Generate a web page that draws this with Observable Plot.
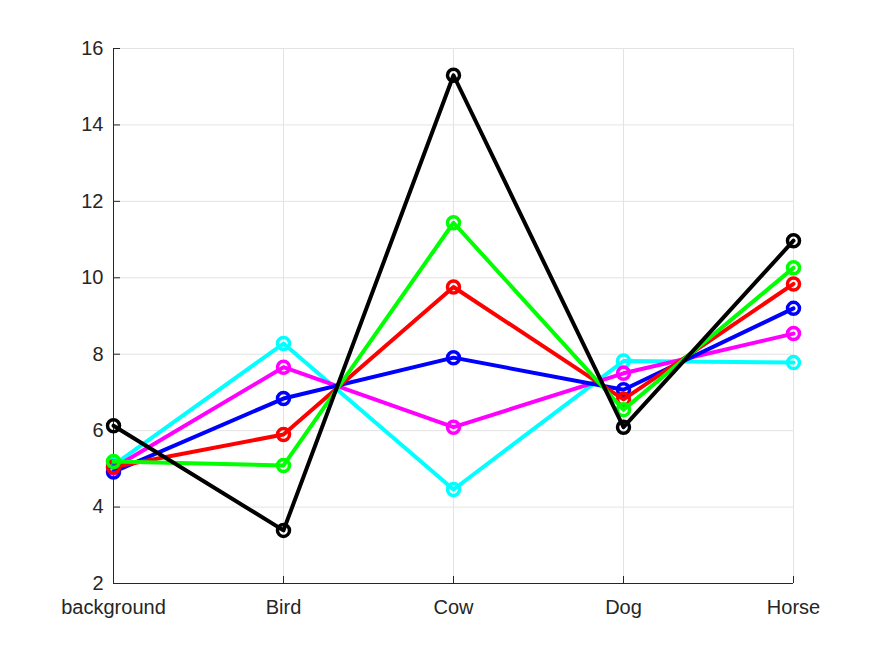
<!DOCTYPE html>
<html>
<head>
<meta charset="utf-8">
<script src="https://cdn.jsdelivr.net/npm/d3@7"></script>
<script src="https://cdn.jsdelivr.net/npm/@observablehq/plot@0.6"></script>
<style>
  html, body { margin: 0; padding: 0; background: #fff; }
  #chart { width: 875px; height: 657px; }
</style>
</head>
<body>
<div id="chart"></div>
<script>
const categories = ["background", "Bird", "Cow", "Dog", "Horse"];
const yTicks = [2, 4, 6, 8, 10, 12, 14, 16];

// drawing order (later on top): cyan, magenta, blue, red, green, black
const seriesNames = ["Series 1", "Series 2", "Series 3", "Series 4", "Series 5", "Series 6"];
const seriesColors = ["#00ffff", "#ff00ff", "#0000ff", "#ff0000", "#00ff00", "#000000"];
const cyanValues    = [5.10, 8.28, 4.46, 7.82, 7.78];
const magentaValues = [5.02, 7.66, 6.09, 7.50, 8.54];
const blueValues    = [4.92, 6.84, 7.91, 7.07, 9.20];
const redValues     = [5.05, 5.90, 9.76, 6.82, 9.84];
const greenValues   = [5.19, 5.09, 11.44, 6.55, 10.26];
const blackValues   = [6.13, 3.39, 15.30, 6.09, 10.97];

const allValues = [cyanValues, magentaValues, blueValues, redValues, greenValues, blackValues];
const data = [];
seriesNames.forEach((s, i) => {
  categories.forEach((c, j) => data.push({series: s, category: c, value: allValues[i][j]}));
});

const axisColor = "#262626";
const gridColor = "#e3e3e3";

const seriesMarks = seriesNames.flatMap((s) => {
  const d = data.filter((r) => r.series === s);
  return [
    Plot.line(d, {x: "category", y: "value", stroke: "series", strokeWidth: 4}),
    Plot.dot(d, {x: "category", y: "value", stroke: "series", r: 6, strokeWidth: 3.5, fill: "none"})
  ];
});

const chart = Plot.plot({
  width: 875,
  height: 657,
  marginLeft: 113,
  marginRight: 82,
  marginTop: 48,
  marginBottom: 74,
  style: {fontFamily: "'Liberation Sans', Arial, Helvetica, sans-serif", fontSize: "20px", background: "#fff", color: axisColor},
  x: {type: "point", domain: categories, padding: 0},
  y: {domain: [2, 16]},
  color: {domain: seriesNames, range: seriesColors},
  marks: [
    Plot.gridY(yTicks, {stroke: gridColor, strokeOpacity: 1}),
    Plot.gridX(categories, {stroke: gridColor, strokeOpacity: 1}),
    Plot.axisY(yTicks, {tickSize: 0, tickPadding: 10, label: null, fill: axisColor, fontSize: 20}),
    Plot.axisY(yTicks, {tickSize: -7, text: null, label: null, stroke: axisColor}),
    Plot.axisX(categories, {tickSize: 0, tickPadding: 16, label: null, fill: axisColor, fontSize: 20}),
    Plot.axisX(categories, {tickSize: -7, text: null, label: null, stroke: axisColor}),
    Plot.ruleX([categories[0]], {stroke: axisColor, strokeWidth: 1}),
    Plot.ruleY([2], {stroke: axisColor, strokeWidth: 1}),
    ...seriesMarks
  ]
});
document.getElementById("chart").appendChild(chart);
</script>
</body>
</html>
